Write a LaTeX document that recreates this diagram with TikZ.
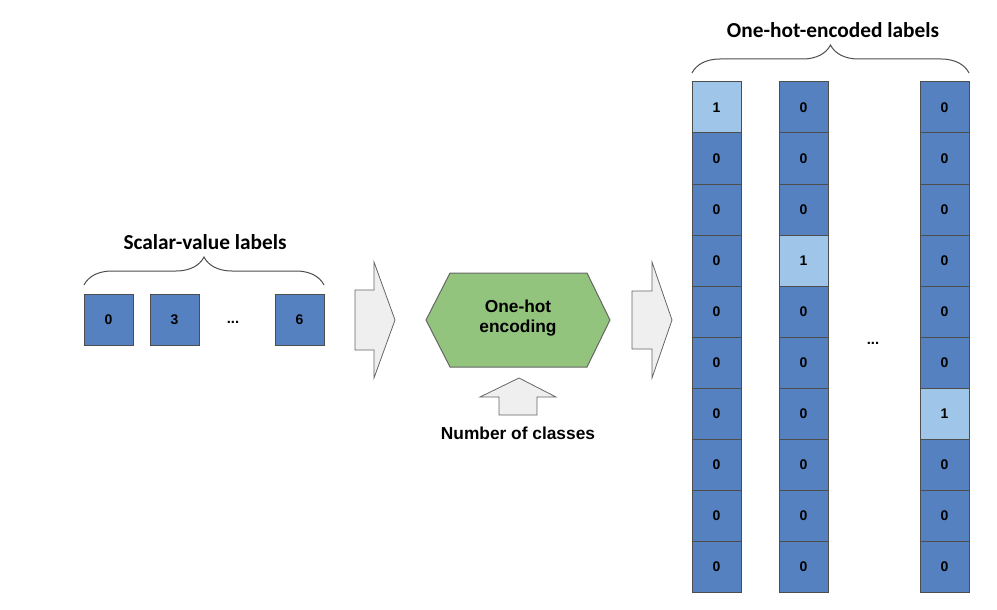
\documentclass[tikz,border=0pt]{standalone}
\usepackage{fontspec}
\setmainfont{Liberation Sans}
\newfontfamily\titlefont{Carlito}
\usepackage{tikz}
\usetikzlibrary{positioning}
\usetikzlibrary{decorations.pathreplacing}

\definecolor{celldark}{HTML}{5581C0}
\definecolor{celllight}{HTML}{9FC5E8}
\definecolor{cellline}{HTML}{4D4D4D}
\definecolor{encgreen}{HTML}{93C47D}
\definecolor{arrowfill}{HTML}{EFEFEF}
\definecolor{arrowline}{HTML}{666666}

\begin{document}
\begin{tikzpicture}
[x=0.75pt,y=-0.75pt,
 cell/.style={shape=rectangle,draw=cellline,line width=0.75pt,fill=celldark,
	minimum width=36.75pt,minimum height=38.25pt,inner sep=0pt,outer sep=0pt,
	font=\fontsize{10.5}{12}\selectfont\bfseries},
 hot/.style={fill=celllight},
 first/.style={anchor=north west},
 dots/.style={font=\fontsize{11}{12}\selectfont\bfseries},
 title/.style={font=\titlefont\fontsize{16}{19}\selectfont\bfseries},
 brace/.style={draw=cellline,line width=0.75pt,decorate,
	decoration={brace,amplitude=21pt}},
 blockarrow/.style={draw=arrowline,fill=arrowfill,line width=0.6pt},
 hexa/.style={draw=arrowline,fill=encgreen,line width=0.75pt},
 enctext/.style={align=center,font=\fontsize{13}{15}\selectfont\bfseries},
 classtext/.style={font=\fontsize{13}{15}\selectfont\bfseries}]

\useasboundingbox (0,0) rectangle (997,610);

\node (s0) [cell,first] at (84,294) {0};
\node (s3) [cell,first] at (150,294) {3};
\node (sdots) [dots] at (233,322) {...};
\node (s6) [cell,first] at (275,294) {6};
\draw [brace] ([yshift=6.75pt]s0.north west) -- ([yshift=6.75pt]s6.north east);
\node (sclab) [title] at (205,242) {Scalar-value labels};

\draw [blockarrow] (355,290) -- (374,290) -- (374,262) -- (395,320)
	-- (374,378) -- (374,350) -- (355,350) -- cycle;

\draw [hexa] (426,320) -- (450,273) -- (587,273) -- (610,320)
	-- (587,367) -- (450,367) -- cycle;
\node (enc) [enctext] at (518,318) {One-hot\\encoding};

\draw [blockarrow] (519,378) -- (556,397) -- (537,397) -- (537,415)
	-- (499,415) -- (499,397) -- (480,397) -- cycle;
\node (ncls) [classtext] at (518,433) {Number of classes};

\draw [blockarrow] (632,291) -- (652,291) -- (652,262) -- (672,320)
	-- (652,378) -- (652,349) -- (632,349) -- cycle;

\node (c1r1) [cell,hot,first] at (692,82) {1};
\node (c1r2) [cell,below=0pt of c1r1] {0};
\node (c1r3) [cell,below=0pt of c1r2] {0};
\node (c1r4) [cell,below=0pt of c1r3] {0};
\node (c1r5) [cell,below=0pt of c1r4] {0};
\node (c1r6) [cell,below=0pt of c1r5] {0};
\node (c1r7) [cell,below=0pt of c1r6] {0};
\node (c1r8) [cell,below=0pt of c1r7] {0};
\node (c1r9) [cell,below=0pt of c1r8] {0};
\node (c1r10) [cell,below=0pt of c1r9] {0};

\node (c2r1) [cell,first] at (779,82) {0};
\node (c2r2) [cell,below=0pt of c2r1] {0};
\node (c2r3) [cell,below=0pt of c2r2] {0};
\node (c2r4) [cell,hot,below=0pt of c2r3] {1};
\node (c2r5) [cell,below=0pt of c2r4] {0};
\node (c2r6) [cell,below=0pt of c2r5] {0};
\node (c2r7) [cell,below=0pt of c2r6] {0};
\node (c2r8) [cell,below=0pt of c2r7] {0};
\node (c2r9) [cell,below=0pt of c2r8] {0};
\node (c2r10) [cell,below=0pt of c2r9] {0};

\node (cdots) [dots] at (873,343) {...};

\node (c3r1) [cell,first] at (920,82) {0};
\node (c3r2) [cell,below=0pt of c3r1] {0};
\node (c3r3) [cell,below=0pt of c3r2] {0};
\node (c3r4) [cell,below=0pt of c3r3] {0};
\node (c3r5) [cell,below=0pt of c3r4] {0};
\node (c3r6) [cell,below=0pt of c3r5] {0};
\node (c3r7) [cell,hot,below=0pt of c3r6] {1};
\node (c3r8) [cell,below=0pt of c3r7] {0};
\node (c3r9) [cell,below=0pt of c3r8] {0};
\node (c3r10) [cell,below=0pt of c3r9] {0};

\draw [brace] ([yshift=6.75pt]c1r1.north west) -- ([yshift=6.75pt]c3r1.north east);
\node (ohlab) [title] at (833,30) {One-hot-encoded labels};
\end{tikzpicture}
\end{document}
